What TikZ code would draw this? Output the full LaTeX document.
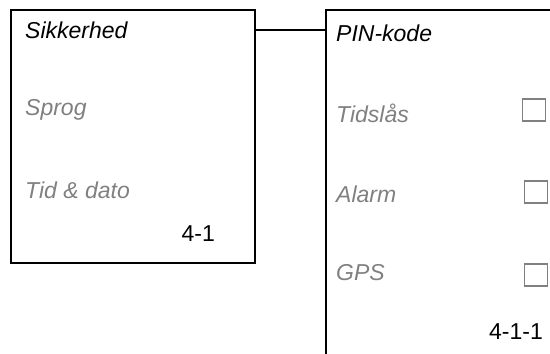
\documentclass[tikz,border=0pt]{standalone}
\usepackage{fontspec}
\setmainfont{Liberation Sans}
\usetikzlibrary{positioning}
\begin{document}
\begin{tikzpicture}[x=1pt, y=-1pt,
  menubox/.style={draw, line width=1.6pt, inner sep=0pt},
  head/.style={anchor=west, inner sep=0pt, font=\itshape\fontsize{23}{26}\selectfont},
  entry/.style={head, text=gray},
  pagenr/.style={anchor=east, inner sep=0pt, font=\fontsize{23}{26}\selectfont},
  tickbox/.style={draw=gray, line width=1.2pt, minimum width=23pt, minimum height=22pt, inner sep=0pt}]
  \useasboundingbox (0,0) rectangle (550,354);
  \clip (0,0) rectangle (550,354);
  % menu 4-1
  \node[menubox, minimum width=244pt, minimum height=253pt] (secbox) at (133,136.5) {};
  \node[head] (sik) at (25,30) {Sikkerhed};
  \node[entry] (sprog) at (25,110) {Sprog};
  \node[entry] (tid) at (25,190) {Tid \& dato};
  \node[pagenr] (nr1) at (215,234) {4-1};
  % menu 4-1-1
  \node[menubox, minimum width=300pt, minimum height=400pt] (pinbox) at (476,210) {};
  \node[head] (pin) at (336,33) {PIN-kode};
  \node[entry] (laas) at (336,113) {Tidslås};
  \node[entry] (alarm) at (336,194) {Alarm};
  \node[entry] (gps) at (336,273) {GPS};
  \node[tickbox] (chk1) at (534,110) {};
  \node[tickbox] (chk2) at (536,192) {};
  \node[tickbox] (chk3) at (536,275) {};
  \node[pagenr] (nr2) at (543,332) {4-1-1};
  % link
  \draw[line width=1.1pt] (sik -| secbox.east) -- (sik -| pinbox.west);
\end{tikzpicture}
\end{document}
